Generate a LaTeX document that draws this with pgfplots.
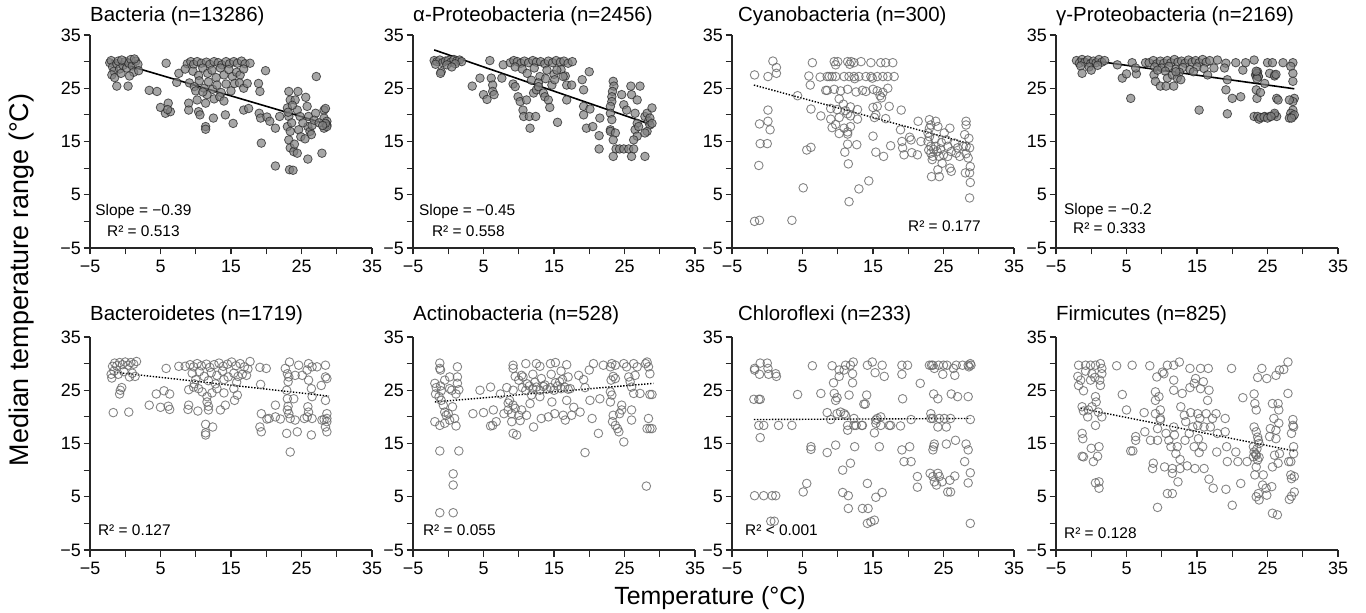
\documentclass[border=0pt]{standalone}
\usepackage{fontspec}
\setmainfont{Liberation Sans}
\usepackage{pgfplots}
\pgfplotsset{compat=1.18}

\pgfplotsset{
  panel/.style={
    scale only axis, width=282bp, height=213bp,
    xmin=-5, xmax=35, ymin=-5, ymax=35,
    axis lines=left, axis line style={-, line width=1.3bp, black!85},
    xtick={-5,5,15,25,35}, ytick={-5,5,15,25,35},
    xticklabels={−5,5,15,25,35}, yticklabels={−5,5,15,25,35},
    minor xtick={0,10,20,30}, minor ytick={0,10,20,30},
    tick align=outside, major tick length=6.5bp, minor tick length=6.5bp,
    tick style={line width=1.2bp, black!85},
    every tick label/.append style={font=\fontsize{18}{18}\selectfont, inner sep=1bp},
    xticklabel style={yshift=-4bp},
    yticklabel style={xshift=-1.5bp},
    title style={at={(0,1)}, anchor=base west, font=\fontsize{20.5}{20.5}\selectfont, inner sep=0pt},
    clip=false,
  },
  row1/.style={title style={yshift=8bp}},
  row2/.style={title style={yshift=11bp}},
  filled/.style={only marks, mark=*, mark size=4.3bp,
    mark options={fill=black!50, draw=black!85, fill opacity=0.7, draw opacity=0.75, line width=0.8bp}},
  open/.style={only marks, mark=o, mark size=4.3bp,
    mark options={draw=black!60, draw opacity=0.8, line width=0.9bp}},
  fitsolid/.style={black, line width=1.6bp, no marks},
  fitdot/.style={black, line width=1.4bp, dash pattern=on 1.4bp off 1.6bp, no marks},
}
\tikzset{note/.style={anchor=west, inner sep=0pt, font=\fontsize{15.5}{16}\selectfont}}

\begin{document}
\begin{tikzpicture}
\useasboundingbox (0,0) rectangle (1366bp,613bp);

% ---------- row 1 ----------
\begin{axis}[panel, row1, at={(90bp,365bp)}, anchor=south west, title={Bacteria (n=13286)}]
\addplot[filled] coordinates {
(-2.2,29.8) (-2.0,30.2) (-1.8,29.0) (-1.6,28.2) (-1.9,27.5) (-1.5,27.0) (-1.2,29.6) (-1.0,30.1) (-0.8,28.6) (-0.6,27.8) (-0.3,29.3) (0.0,30.0) (0.2,28.8) (0.5,29.7) (0.8,30.4) (1.0,29.2) (1.2,28.0) (1.5,30.1) (1.8,29.5) (1.9,28.3) (0.6,27.3) (-1.2,25.4) (0.4,25.4) (-0.5,30.3) (1.3,30.5)
(3.4,24.6) (4.5,24.4) (5.0,21.4) (5.7,20.3) (6.1,22.2) (6.4,20.6) (6.0,21.0) (5.8,29.7) (7.3,26.1) (7.6,27.8)
(8.8,29.6) (9.3,30.0) (9.7,29.5) (10.2,30.0) (10.8,29.7) (11.5,29.9) (12.0,29.5) (12.6,30.0) (13.2,29.8) (13.7,29.4) (14.3,30.0) (14.8,29.6) (15.4,30.0) (15.9,29.7) (16.5,30.1) (17.0,29.6)
(8.5,28.6) (9.6,28.2) (10.4,27.4) (11.0,28.8) (11.7,27.8) (12.3,28.4) (12.9,27.0) (13.5,28.8) (14.0,27.5) (14.7,28.5) (15.2,27.2) (15.8,28.0) (16.3,27.5) (16.8,28.6)
(9.1,26.0) (9.8,25.3) (10.5,26.4) (11.2,25.0) (11.8,26.2) (12.4,24.8) (13.0,25.6) (13.6,24.2) (14.3,25.8) (15.0,24.5) (15.5,25.9) (16.2,26.0) (16.8,25.0)
(10.0,24.5) (11.6,23.8) (12.6,23.0) (13.4,23.4) (14.0,22.6) (11.0,24.3)
(9.0,22.2) (9.0,20.9) (10.2,22.8) (10.4,20.6) (10.6,20.0) (11.4,22.2) (11.4,17.8) (11.4,17.3) (12.5,19.4) (14.2,20.0) (15.3,18.4) (16.8,20.9) (17.5,21.2) (17.3,25.9) (17.7,29.7)
(19.9,28.3) (18.9,25.9) (19.1,24.4) (19.0,20.3) (19.2,19.4) (20.1,19.6) (20.5,18.8) (19.3,14.7) (21.3,17.5) (21.9,19.7) (21.3,10.4)
(23.2,24.4) (23.4,22.8) (23.0,21.3) (23.2,19.7) (23.0,17.8) (23.4,16.9) (23.2,15.3) (23.4,13.8) (23.9,13.1) (24.4,12.8) (23.3,9.7) (23.8,9.6) (24.5,24.4) (24.1,22.8) (24.4,20.9) (24.8,19.7) (24.6,17.2) (24.9,15.9) (25.6,23.3) (25.8,21.6) (26.0,19.7) (25.9,17.8) (26.2,16.9) (26.4,16.3) (25.9,11.7) (27.1,27.2) (27.9,12.8) (27.0,20.3) (28.2,20.9) (28.4,21.2) (28.2,19.4) (28.6,18.8) (28.6,18.1) (28.2,17.5) (28.6,17.8) (28.4,18.4) (23.6,18.5) (24.0,14.5) (23.1,20.5) (23.7,21.8) (25.2,18.5) (25.5,15.5) (26.5,18.0) (26.8,19.0) (27.5,18.5) (28.0,18.0)
};
\addplot[fitsolid] coordinates {(-2,30.2) (28.5,18.3)};
\node[note] at (axis description cs:0.018,0.169) {Slope = −0.39};
\node[note] at (axis description cs:0.06,0.080) {R² = 0.513};
\end{axis}

\begin{axis}[panel, row1, at={(413bp,365bp)}, anchor=south west, title={α-Proteobacteria (n=2456)}]
\addplot[filled] coordinates {
(-2.0,30.2) (-1.6,30.0) (-1.2,30.3) (-0.8,29.8) (-0.4,30.1) (0.0,30.2) (0.4,29.9) (0.8,30.4) (1.2,30.1) (1.6,30.3) (1.9,30.0) (-1.8,29.5) (-0.2,29.4) (1.0,29.6) (-1.0,28.1) (-1.1,27.8) (0.5,29.0)
(3.4,25.4) (4.5,26.9) (5.0,23.8) (5.5,22.9) (5.9,30.2) (6.1,26.9) (6.3,25.6) (6.3,24.4) (6.5,23.8) (7.6,26.9) (7.8,29.4)
(8.8,29.8) (9.3,30.2) (9.8,30.0) (10.3,29.7) (10.8,30.1) (11.4,29.8) (12.0,30.2) (12.5,29.9) (13.1,30.0) (13.7,29.6) (14.2,30.1) (14.8,29.8) (15.3,30.2) (15.9,29.9) (16.4,30.1) (17.0,29.7) (17.6,30.0) (9.5,29.0) (10.5,28.6) (11.2,27.8) (12.2,28.8) (13.0,27.2) (14.0,28.4) (15.0,27.6) (16.0,28.5) (16.6,27.3) (11.8,26.5) (12.8,26.0) (13.8,26.8)
(9.2,25.8) (9.5,25.3) (9.9,23.4) (10.2,22.5) (10.6,20.9) (10.7,19.7) (11.5,19.7) (11.6,17.5) (12.4,19.7) (11.1,22.8) (12.1,24.1) (12.5,24.7) (12.8,25.3) (13.5,24.1) (13.7,23.4) (14.2,22.8) (14.4,21.4) (15.5,18.6) (14.7,25.6) (15.1,26.6) (15.4,28.4) (16.3,27.2) (16.8,25.6) (17.5,25.6) (16.8,22.8)
(19.0,26.6) (19.2,24.7) (20.0,28.1) (19.2,21.6) (20.1,21.1) (19.2,20.0) (19.6,17.5) (20.5,17.8) (21.5,19.4) (21.4,16.1) (21.4,13.6)
(23.4,26.3) (23.5,25.4) (23.3,24.4) (23.2,23.4) (23.2,22.5) (23.0,21.6) (23.0,20.3) (23.2,19.1) (23.0,17.2) (23.0,16.9) (23.7,16.6) (23.4,15.3) (23.8,13.6) (24.3,13.6) (24.9,13.6) (25.6,13.6) (26.3,13.6) (23.4,12.2) (26.0,12.2) (24.6,23.8) (24.9,21.9) (25.3,20.9) (26.0,23.8) (26.8,22.8) (27.2,25.4) (25.9,25.4) (26.5,20.3) (26.8,18.4) (26.5,17.2) (26.8,16.0) (26.3,15.3) (27.0,17.8) (27.9,12.2) (27.9,19.7) (28.2,20.3) (28.4,18.8) (28.6,19.4) (28.9,21.3) (28.6,18.1) (28.2,16.9) (27.9,16.6) (28.9,18.4)
};
\addplot[fitsolid] coordinates {(-2,32.2) (28.5,18.3)};
\node[note] at (axis description cs:0.021,0.169) {Slope = −0.45};
\node[note] at (axis description cs:0.067,0.080) {R² = 0.558};
\end{axis}

\begin{axis}[panel, row1, at={(732bp,365bp)}, anchor=south west, title={Cyanobacteria (n=300)}, title style={xshift=6bp}]
\addplot[open] coordinates {
(-1.8,27.5) (-1.8,0.0) (-1.1,0.2) (-1.1,18.3) (-1.0,14.6) (-1.2,10.5) (0.1,27.2) (0.1,20.9) (0.1,18.8) (0.0,14.6) (0.4,17.2) (0.8,30.1) (1.3,28.9) (1.3,27.8) (3.5,0.2) (4.3,23.6) (5.1,6.3) (5.6,13.4) (6.2,13.9) (5.9,27.3) (6.1,25.6) (6.2,21.1) (6.4,29.8) (7.6,19.8) (7.5,27.1) (8.3,24.6) (8.5,27.2) (8.8,27.2)
(9.5,30.0) (10.0,30.0) (11.4,30.0) (11.9,30.0) (12.3,29.8) (13.3,30.0) (14.7,29.8) (16.1,29.8) (16.8,29.8) (17.8,29.8) (9.7,29.4) (11.7,29.5)
(9.2,27.2) (9.7,27.2) (10.9,27.2) (11.6,27.2) (12.3,27.2) (13.0,27.2) (14.0,27.2) (14.7,27.2) (15.6,27.2) (16.4,27.2) (17.1,27.2) (18.0,27.2) (12.4,26.8) (14.9,26.9)
(8.5,24.6) (9.5,24.8) (10.4,24.5) (11.4,24.8) (12.6,24.3) (13.5,24.6) (14.0,24.4) (15.0,24.8) (15.6,24.5) (16.4,24.2) (17.1,25.0) (16.0,23.6) (16.2,23.2) (10.2,23.0) (10.8,22.0)
(9.0,21.2) (9.9,21.0) (11.1,20.8) (11.8,21.5) (12.8,21.0) (15.0,21.4) (15.6,21.6) (17.3,21.6) (19.0,20.9) (15.4,20.0) (11.4,20.2)
(9.0,19.2) (10.2,19.5) (11.8,19.8) (12.8,19.2) (15.2,19.5) (16.8,19.3)
(9.2,17.6) (9.7,18.2) (10.9,17.5) (11.4,16.8) (11.8,17.8) (10.2,16.5) (11.4,16.4)
(11.4,14.5) (12.7,14.4) (15.0,16.0) (17.5,14.2) (11.0,13.0) (15.4,13.0) (16.5,12.2) (11.5,10.8) (14.4,7.6) (13.0,6.1) (11.6,3.7)
(18.9,17.2) (19.1,15.0) (19.2,13.8) (19.4,12.5) (20.4,15.3) (20.2,15.8) (20.5,12.9) (21.3,12.5) (21.4,18.8) (21.8,15.0)
(23.0,19.1) (23.2,18.1) (23.0,17.5) (22.8,16.6) (23.0,15.9) (22.8,15.0) (23.2,14.1) (22.9,13.4) (23.2,12.8) (23.5,12.2) (23.4,11.6) (23.9,18.8) (24.2,17.8) (23.9,14.1) (24.1,13.1) (24.4,12.2) (23.3,8.4) (24.4,8.4) (24.2,9.7) (24.8,10.9) (25.1,16.6) (25.4,15.3) (25.6,14.1) (25.9,17.5) (26.1,13.1) (25.9,10.0) (26.1,9.4) (26.6,14.7) (27.0,13.8) (26.8,12.8) (25.6,12.2) (27.3,12.2) (23.6,13.5) (24.6,13.6) (25.0,12.5) (23.8,15.5) (24.7,14.8)
(28.2,18.8) (28.2,18.1) (28.0,16.3) (28.6,15.6) (28.2,14.1) (28.7,13.8) (28.2,12.7) (28.5,11.9) (28.1,9.1) (28.8,10.3) (28.7,9.1) (28.8,7.3) (28.7,4.4) (27.8,14.1)
};
\addplot[fitdot] coordinates {(-1.9,25.6) (28.6,14.6)};
\node[note] at (axis description cs:0.624,0.103) {R² = 0.177};
\end{axis}

\begin{axis}[panel, row1, at={(1056bp,365bp)}, anchor=south west, title={γ-Proteobacteria (n=2169)}]
\addplot[filled] coordinates {
(-2.1,30.2) (-1.7,29.7) (-1.3,30.4) (-0.9,29.9) (-0.5,30.3) (-0.1,29.6) (0.3,30.1) (0.7,29.8) (1.1,30.4) (1.5,29.9) (1.9,30.2) (-1.5,29.2) (-0.3,29.0) (0.9,29.3) (-1.3,27.8) (0.0,28.4)
(3.7,29.4) (4.4,26.9) (5.0,27.7) (5.6,23.1) (5.8,29.8) (6.4,27.7) (6.3,28.8) (7.7,29.8)
(8.2,29.8) (8.8,30.2) (9.3,29.6) (9.8,30.1) (10.3,29.7) (10.8,30.2) (11.3,29.8) (11.8,30.4) (12.3,29.9) (12.8,30.1) (13.3,29.7) (13.8,30.3) (14.3,29.9) (14.8,30.2) (15.3,29.8) (15.8,30.4) (16.3,29.9) (16.8,30.2) (9.0,29.0) (10.0,28.8) (11.0,29.1) (12.0,28.6) (13.0,28.9) (14.0,28.5) (15.0,29.0) (16.0,28.7) (10.5,28.2) (12.5,28.0) (14.5,28.1)
(8.9,27.5) (9.1,26.3) (9.8,25.4) (10.6,25.4) (9.4,28.4) (10.8,26.9) (11.5,27.5) (11.7,25.4) (12.2,26.9) (12.7,26.6) (12.0,28.1) (15.3,20.9) (16.5,27.5) (17.4,28.8) (17.9,30.3)
(19.1,29.7) (18.9,28.8) (19.3,26.6) (19.1,24.7) (19.3,20.2) (20.5,29.8) (20.0,23.1) (21.2,23.4) (21.5,28.4) (21.9,29.8)
(23.1,30.3) (23.4,27.5) (23.6,28.1) (23.7,27.2) (23.4,24.7) (23.5,23.1) (24.0,24.2) (24.6,25.9) (23.1,19.7) (23.6,19.7) (23.8,19.2) (24.6,19.7) (25.3,19.7) (26.0,20.0) (26.3,19.7) (25.0,29.8) (25.7,29.8) (26.0,27.5) (25.3,27.8) (26.3,23.1) (26.5,22.8) (26.0,20.3) (27.2,29.8) (28.6,29.8) (28.3,29.1) (28.6,27.8) (28.6,26.3) (28.8,23.1) (28.6,22.5) (28.1,22.8) (28.6,20.9) (28.3,20.3) (28.6,19.7) (28.1,19.4) (28.8,20.0) (28.4,19.4)
(23.3,27.5) (23.5,27.8) (23.7,27.2) (23.5,26.8) (23.4,28.2) (26.0,27.3) (26.2,27.6) (24.0,19.5) (24.5,19.6) (25.0,19.4) (25.5,19.7)
};
\addplot[fitsolid] coordinates {(-2,30.6) (28.8,24.9)};
\node[note] at (axis description cs:0.028,0.178) {Slope = −0.2};
\node[note] at (axis description cs:0.06,0.094) {R² = 0.333};
\end{axis}

% ---------- row 2 ----------
\begin{axis}[panel, row2, at={(90bp,63bp)}, anchor=south west, title={Bacteroidetes (n=1719)}]
\addplot[open] coordinates {
(-2.0,28.0) (-1.8,29.5) (-1.5,30.1) (-1.2,29.6) (-0.8,30.2) (-0.4,29.8) (0.0,30.3) (0.4,29.7) (0.8,30.2) (1.2,29.9) (1.6,30.4) (-1.6,28.6) (-1.0,28.0) (-0.2,28.5) (0.6,27.5) (1.0,28.2) (1.4,27.6) (-1.9,27.3) (-1.7,20.8) (0.5,20.9) (-0.8,24.3) (-0.5,25.5) (-0.7,25.0)
(3.4,22.2) (4.4,24.3) (5.0,21.8) (5.8,29.1) (5.5,24.9) (6.3,24.3) (6.1,22.0) (6.3,21.4)
(7.6,29.5) (8.5,29.5) (9.2,29.8) (9.7,29.4) (10.2,30.0) (10.8,29.6) (11.5,29.9) (12.0,29.3) (12.6,29.8) (13.3,30.1) (13.9,29.5) (14.5,29.9) (15.1,30.3) (15.7,29.6) (16.3,30.0) (16.9,29.4) (17.4,29.0) (9.5,28.2) (10.5,28.5) (11.2,27.6) (12.2,28.3) (13.0,27.8) (13.8,28.6) (14.6,27.5) (15.4,28.2) (16.0,27.6) (16.6,28.0) (17.2,27.8) (10.0,27.0) (11.8,26.8) (14.0,27.0) (15.8,26.5) (12.8,26.2) (9.8,26.2)
(8.9,21.4) (9.0,22.2) (10.3,21.1) (9.0,25.1) (9.7,25.6) (10.4,25.3) (10.9,24.7) (11.6,23.8) (12.3,24.5) (13.0,25.3) (14.0,24.5) (15.4,25.3) (15.9,24.1) (15.5,23.1) (11.6,22.8) (11.8,22.0) (11.8,21.3) (13.5,21.3) (14.2,22.2) (11.4,18.6) (11.4,17.0) (11.4,16.6) (12.4,18.1)
(17.7,30.4) (19.1,29.3) (20.0,29.1) (19.2,26.1) (19.3,20.6) (19.1,18.1) (19.3,17.2) (20.1,19.6) (20.4,19.7) (21.3,22.2) (21.3,20.0) (22.0,19.6)
(22.7,29.1) (23.3,30.3) (23.0,28.1) (23.2,27.5) (23.1,26.6) (22.9,25.0) (23.0,23.4) (23.1,22.0) (23.0,21.3) (23.2,20.6) (23.4,19.7) (22.9,16.9) (23.4,13.4) (23.9,23.4) (24.1,19.4) (24.4,17.2) (24.1,27.8)
(24.6,29.7) (25.1,27.8) (25.8,28.8) (26.0,30.0) (26.5,29.4) (26.0,26.9) (26.4,25.3) (26.5,23.8) (25.9,21.9) (26.0,20.9) (25.8,20.0) (26.5,19.7) (25.4,19.7) (26.4,16.6) (27.2,29.4) (27.8,25.9) (27.9,19.4) (28.4,29.7) (28.6,27.2) (28.4,27.5) (28.4,23.1) (28.6,20.6) (28.6,19.7) (28.6,19.1) (28.4,18.1) (28.6,17.2) (28.2,19.5)
};
\addplot[fitdot] coordinates {(-1.6,28.4) (28.9,23.9)};
\node[note] at (axis description cs:0.028,0.094) {R² = 0.127};
\end{axis}

\begin{axis}[panel, row2, at={(413bp,63bp)}, anchor=south west, title={Actinobacteria (n=528)}]
\addplot[open] coordinates {
(-1.2,30.1) (-1.2,29.1) (-1.1,28.8) (-1.9,26.3) (-1.7,25.5) (-1.8,24.3) (-1.1,25.8) (-1.0,24.9) (-1.3,23.8) (-1.0,23.1) (-0.7,22.2) (-0.5,20.9) (-0.3,20.3) (0.0,20.6) (0.2,27.5) (-0.5,26.9) (0.2,25.3) (0.5,25.0) (0.6,21.9) (-1.9,19.1) (-1.2,18.4) (-0.5,18.8) (0.2,19.4) (0.9,19.7) (1.1,18.3) (1.3,29.4) (1.3,27.5) (1.3,26.3) (1.5,25.1) (1.1,24.3) (-1.2,13.6) (1.5,13.6) (0.7,9.3) (0.7,7.2) (-1.2,2.0) (0.7,2.0)
(3.5,20.6) (4.5,25.0) (5.0,20.8) (6.0,25.6) (6.4,21.3) (6.0,18.3) (6.3,18.4) (6.8,19.1) (7.4,24.3) (7.9,20.6) (8.3,25.5) (8.5,22.6) (8.5,21.3) (8.7,23.1) (9.2,29.7) (9.2,29.1) (9.5,27.6) (9.2,25.0) (9.2,22.2) (9.0,20.6) (9.0,19.1) (9.2,16.9) (9.7,16.6) (9.5,21.6) (10.0,20.3) (10.2,19.3) (10.0,26.9) (10.4,27.8)
(10.5,25.5) (11.0,25.0) (11.5,25.8) (12.0,25.3) (12.5,25.6) (13.0,25.0) (13.5,25.7) (14.0,25.2) (14.5,25.5) (15.0,25.0) (15.5,25.8) (16.0,25.3) (16.5,25.6) (17.0,25.2) (11.2,26.2) (12.3,26.5) (13.7,26.0) (15.2,26.4) (16.2,27.0) (15.8,26.6) (11.0,30.0) (12.5,30.0) (14.5,30.0) (15.2,30.2) (16.8,29.8) (10.6,27.5) (12.0,28.0) (13.2,27.2) (14.6,28.0) (16.0,28.6) (13.0,29.5)
(10.4,21.3) (11.1,20.3) (12.1,18.1) (11.6,22.5) (11.8,24.1) (13.0,23.8) (13.2,19.7) (14.2,20.0) (14.7,22.8) (15.1,20.6) (16.3,20.3) (16.8,23.1) (17.0,27.5) (17.3,25.3) (17.5,20.3) (16.6,19.4) (17.8,21.8) (18.5,27.8) (18.7,20.9) (19.2,27.0) (19.4,25.5) (19.4,13.3) (20.0,28.8) (20.1,23.1) (20.4,19.7) (20.6,30.0) (21.5,23.4) (21.3,16.9) (22.0,29.7)
(23.0,29.4) (23.2,30.0) (23.7,29.7) (23.4,27.6) (23.7,27.2) (23.1,26.9) (23.0,24.7) (23.2,24.1) (23.0,22.8) (23.4,20.3) (23.3,19.1) (23.7,18.4) (24.0,17.8) (24.2,17.2) (24.9,15.3) (24.3,20.6) (24.6,22.2) (24.6,21.3) (24.9,30.0) (25.3,29.4) (25.6,27.5) (25.8,26.6) (26.0,25.6) (26.3,24.4) (26.0,21.3) (26.0,19.4) (26.3,30.0) (26.8,29.4) (26.5,27.8) (27.2,24.4) (28.0,30.0) (28.2,30.3) (28.4,29.4) (28.6,28.1) (28.9,24.2) (28.6,24.2) (28.4,19.7) (28.6,17.8) (28.2,17.8) (28.9,17.8) (28.1,7.0)
};
\addplot[fitdot] coordinates {(-1.9,22.8) (29.1,26.3)};
\node[note] at (axis description cs:0.035,0.094) {R² = 0.055};
\end{axis}

\begin{axis}[panel, row2, at={(732bp,63bp)}, anchor=south west, title={Chloroflexi (n=233)}, title style={xshift=6bp}]
\addplot[open] coordinates {
(-1.8,29.1) (-1.8,28.8) (-1.0,30.1) (-1.1,28.0) (0.0,30.1) (0.1,29.1) (0.2,28.0) (1.2,28.1) (1.3,27.6) (-1.9,23.3) (-1.2,23.3) (-1.0,23.3) (-1.2,18.4) (-0.5,18.4) (1.6,18.4) (3.5,18.4) (-1.0,16.1) (-1.8,5.2) (-0.5,5.2) (0.7,5.2) (1.2,5.2) (0.5,0.4) (1.0,0.4)
(4.3,24.2) (5.1,5.9) (5.6,7.5) (6.2,14.4) (6.2,13.9) (6.4,29.6) (7.6,24.4) (8.5,13.3) (9.2,29.6) (8.5,20.8) (9.0,19.5) (9.4,26.4) (9.5,24.4) (9.7,23.1) (9.7,14.7) (9.9,23.6) (9.9,20.6) (10.2,27.6) (10.2,28.8) (10.4,20.9) (10.9,28.8) (11.1,29.7) (10.9,20.6) (11.1,20.3) (11.4,18.4) (11.4,17.5) (11.6,24.1) (11.8,11.3) (10.7,10.0) (10.7,5.8) (11.5,5.2) (11.5,2.8)
(11.8,29.7) (12.1,28.1) (12.1,26.4) (12.2,30.3) (12.3,19.7) (12.3,18.4) (12.4,14.4) (12.6,18.4) (13.4,18.4) (13.5,18.4) (13.5,2.8) (13.7,22.4) (13.9,22.4) (14.1,24.1) (14.2,29.7) (14.2,7.5) (14.3,2.8) (14.2,0.0) (14.7,0.3) (14.9,30.3) (15.2,0.6) (15.3,28.3) (15.2,17.0) (15.4,19.4) (15.4,18.8) (15.4,4.9) (15.6,19.7) (15.9,14.4) (16.1,20.0) (16.1,18.4) (16.3,29.7) (16.3,5.8) (16.6,27.6) (17.3,18.4) (17.5,18.4)
(18.9,18.3) (19.1,29.7) (19.1,28.0) (19.1,13.8) (19.2,23.4) (19.4,11.6) (19.9,29.7) (20.2,14.4) (20.4,11.6) (20.4,19.5) (21.7,26.3) (21.3,6.8) (21.3,8.8)
(23.0,29.7) (23.3,29.7) (23.5,29.7) (23.7,29.1) (24.3,29.7) (25.0,29.7) (25.5,29.7) (26.8,29.7) (23.2,20.6) (23.2,19.7) (23.5,19.7) (23.6,14.4) (23.5,13.8) (23.7,14.9) (23.1,9.4) (23.5,8.8) (23.7,7.8) (24.0,7.2) (24.2,9.4) (24.4,8.8) (24.8,7.8) (24.2,18.1) (24.4,19.7) (23.6,24.3) (24.2,23.4) (24.9,28.0) (25.1,19.7) (25.4,18.1) (25.4,14.9) (25.6,5.9) (26.0,5.9) (25.9,8.1) (26.0,19.7) (26.1,24.3) (26.4,29.1) (26.6,27.8) (26.6,8.9) (26.7,15.6) (27.0,23.8)
(27.7,29.7) (28.0,11.6) (28.2,14.9) (28.5,13.8) (28.5,23.8) (28.5,29.7) (28.8,30.0) (28.9,29.7) (28.6,29.4) (28.8,19.5) (28.8,9.5) (28.5,7.6) (28.8,0.0)
};
\addplot[fitdot] coordinates {(-1.9,19.5) (28.8,19.7)};
\node[note] at (axis description cs:0.046,0.094) {R² < 0.001};
\end{axis}

\begin{axis}[panel, row2, at={(1056bp,63bp)}, anchor=south west, title={Firmicutes (n=825)}]
\addplot[open] coordinates {
(-1.8,29.7) (-0.8,29.7) (-0.1,29.7) (0.6,29.7) (1.3,30.0) (1.5,29.1) (-1.9,27.6) (-1.5,26.9) (-1.8,25.9) (-1.1,24.9) (-0.8,28.6) (-0.1,26.9) (0.1,28.1) (0.5,27.4) (1.2,26.9) (1.3,25.9) (1.5,28.1) (0.6,23.8) (0.7,22.8) (-1.3,21.9) (-1.1,21.1) (-0.4,21.3) (0.1,21.9) (-0.5,20.0) (1.0,20.9) (1.5,20.0) (0.6,18.4) (-1.3,16.9) (-1.2,15.9) (-1.3,12.6) (-1.1,12.5) (0.0,14.1) (0.3,11.6) (0.9,12.6) (1.1,14.4) (0.6,7.6) (1.1,7.8) (1.1,6.6)
(3.6,29.6) (4.4,24.2) (5.0,21.3) (5.8,29.7) (5.6,13.6) (5.9,13.6) (6.3,15.6) (6.3,16.3) (7.5,20.8) (7.6,17.2) (8.3,29.6) (8.4,15.6) (8.7,10.3) (8.8,11.3) (9.1,24.7) (9.1,23.1) (9.1,20.6) (9.3,27.5) (9.4,3.0) (9.4,17.8) (9.4,15.6) (9.6,23.8) (9.8,19.7) (9.8,21.3) (9.8,19.4) (10.1,28.4) (10.3,28.1) (10.4,10.6) (10.6,16.9) (10.8,5.6) (10.8,29.7) (11.0,15.6) (11.3,14.4) (11.5,5.6) (11.5,10.3) (11.5,9.4) (11.7,29.7) (11.7,25.0) (11.7,26.9) (11.7,18.1) (11.8,16.6) (12.0,13.1) (12.2,14.4) (12.3,7.8) (12.5,30.3) (12.6,12.0) (12.6,10.3) (12.7,21.9) (12.9,24.4) (13.2,20.3) (13.3,15.6) (13.4,19.1) (13.6,10.8) (13.9,16.9)
(14.0,29.1) (14.0,25.5) (14.1,20.8) (14.4,18.1) (14.6,26.3) (14.6,14.4) (14.7,10.3) (14.8,27.2) (15.1,20.6) (15.1,18.4) (15.2,15.9) (15.3,13.3) (15.4,19.7) (15.5,29.1) (15.5,25.3) (15.8,14.4) (15.9,26.6) (16.0,18.1) (16.0,10.3) (16.3,20.6) (16.5,23.1) (16.6,29.1) (16.7,25.0) (16.7,8.3) (16.9,18.1) (17.2,19.7) (17.3,6.6) (17.7,20.6) (17.8,13.4) (17.9,16.9)
(19.0,19.7) (19.0,17.2) (19.1,6.4) (19.2,14.4) (19.3,11.6) (19.9,29.1) (20.0,3.4) (20.5,13.4) (20.8,11.6) (21.2,7.5) (21.5,23.6) (22.1,11.6)
(23.1,24.3) (23.2,22.5) (23.4,21.3) (23.1,18.1) (23.4,17.2) (23.0,14.4) (23.1,13.4) (23.0,12.5) (23.4,12.8) (23.6,11.9) (23.4,10.6) (23.2,9.1) (23.4,5.0) (23.7,5.6) (23.8,4.4) (23.6,27.4) (24.2,29.1) (23.7,15.6) (23.8,15.0) (24.4,9.1) (24.3,7.2) (24.8,6.6) (24.9,5.3) (24.9,27.2) (23.5,14.0) (23.3,13.0) (23.8,12.4) (23.6,16.2)
(25.3,16.3) (25.4,17.8) (25.6,6.9) (25.7,22.5) (25.9,19.7) (26.0,12.8) (25.7,10.6) (25.7,1.9) (26.2,27.8) (26.2,17.5) (26.2,15.9) (26.4,1.6) (26.5,22.5) (26.6,21.3) (26.6,18.8) (26.7,28.8) (26.7,13.1) (26.5,11.3) (27.3,28.9) (27.9,30.3) (27.9,24.4) (28.0,11.6) (28.1,4.5) (28.3,9.1) (28.4,8.4) (28.4,16.9) (28.4,5.1) (28.6,19.5) (28.6,18.4) (28.7,14.4) (28.7,13.1) (28.7,18.1) (28.8,5.9) (28.3,11.6) (28.8,8.8)
};
\addplot[fitdot] coordinates {(-1.5,21.6) (28.8,13.6)};
\node[note] at (axis description cs:0.028,0.08) {R² = 0.128};
\end{axis}

% shared axis labels
\node[rotate=90, font=\fontsize{27}{27}\selectfont] at (22bp,333bp) {Median temperature range (°C)};
\node[font=\fontsize{25}{25}\selectfont] at (710bp,15bp) {Temperature (°C)};
\end{tikzpicture}
\end{document}
